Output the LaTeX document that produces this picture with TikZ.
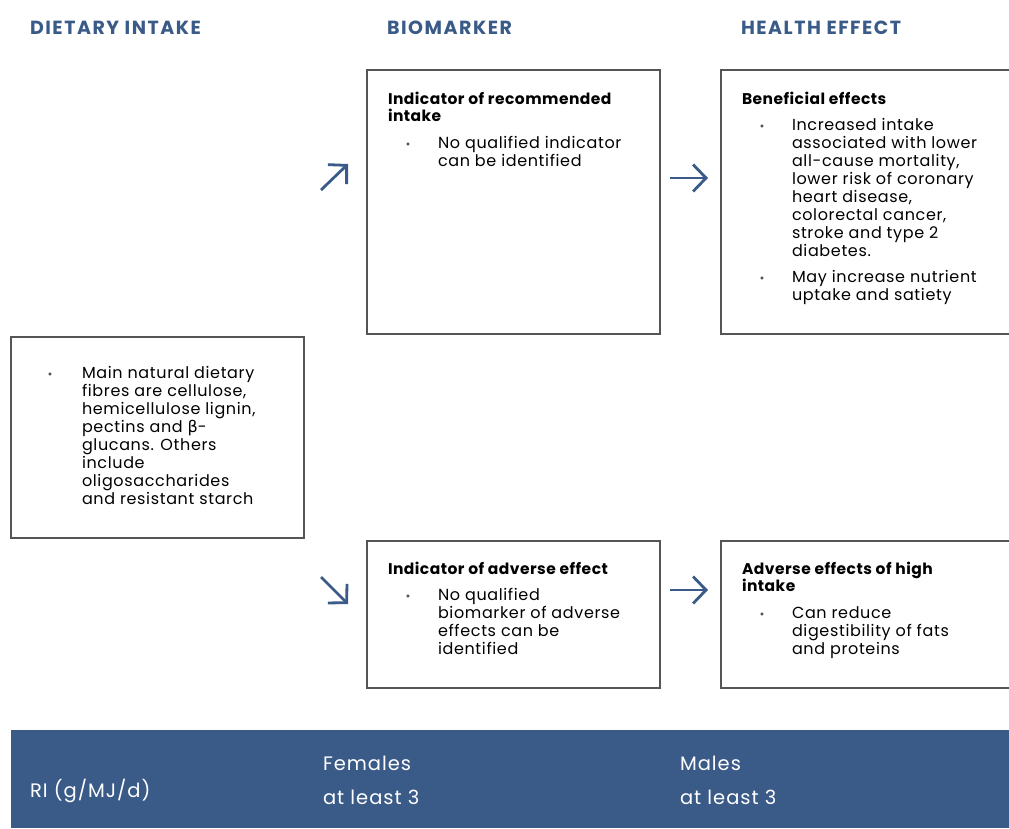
\documentclass[tikz,border=0pt]{standalone}
\usepackage{fontspec}
\setmainfont{Poppins}
\newfontfamily\greekfont{DejaVu Sans}
\usetikzlibrary{arrows.meta, positioning}
\definecolor{headblue}{HTML}{3A5A88}
\definecolor{framegray}{HTML}{555555}

\begin{document}
\begin{tikzpicture}[
	x=1pt, y=-1pt,
	every node/.style = {inner sep=0pt, outer sep=0pt},
	panel/.style = {draw=framegray, line width=1.8pt, anchor=north west},
	colhead/.style = {anchor=base west, text=headblue, font=\fontsize{19}{22}\selectfont\bfseries\addfontfeature{LetterSpace=8}},
	boxtitle/.style = {anchor=base west, align=left, font=\fontsize{15.5}{17.5}\selectfont\bfseries\addfontfeature{LetterSpace=3}},
	item/.style = {anchor=base west, align=left, font=\fontsize{16}{18}\selectfont\addfontfeature{LetterSpace=4}},
	dot/.style = {anchor=base, text=framegray, font=\fontsize{12}{12}\selectfont},
	barlabel/.style = {anchor=base west, text=white, font=\fontsize{19.5}{22}\selectfont\addfontfeature{LetterSpace=5}},
	flow/.style = {headblue, line width=2.8pt, -{Straight Barb[length=13pt, width=27pt]}}
	]
	\useasboundingbox (0,0) rectangle (1009,828);
%
	\node[colhead] (hdiet) at (30,34) {DIETARY INTAKE};
	\node[colhead] (hbio)  at (387,34) {BIOMARKER};
	\node[colhead] (hhealth) at (741,34) {HEALTH EFFECT};
%
	\node[panel, minimum width=293, minimum height=264] (biotop) at (367,70) {};
	\node[panel, minimum width=300, minimum height=264] (efftop) at (721,70) {};
	\node[panel, minimum width=293, minimum height=201] (intake) at (11,337) {};
	\node[panel, minimum width=293, minimum height=147] (biobot) at (367,541) {};
	\node[panel, minimum width=300, minimum height=147] (effbot) at (721,541) {};
%
	% text nodes sit on the baseline of their last line
	\node[dot]  (d0) at (50,378) {•};
	\node[item] (t0) at (82,504) {Main natural dietary\\fibres are cellulose,\\hemicellulose lignin,\\pectins and {\greekfont β}-\\glucans. Others\\include\\oligosaccharides\\and resistant starch};
%
	\node[boxtitle] (ti1) at (388,121.5) {Indicator of recommended\\intake};
	\node[dot]  (d1) at (408,148) {•};
	\node[item] (t1) at (438,166) {No qualified indicator\\can be identified};
%
	\node[boxtitle] (ti2) at (742,104) {Beneficial effects};
	\node[dot]  (d2) at (762,130) {•};
	\node[item] (t2) at (792,256) {Increased intake\\associated with lower\\all-cause mortality,\\lower risk of coronary\\heart disease,\\colorectal cancer,\\stroke and type 2\\diabetes.};
	\node[dot]  (d3) at (762,282) {•};
	\node[item] (t3) at (792,300) {May increase nutrient\\uptake and satiety};
%
	\node[boxtitle] (ti3) at (388,574) {Indicator of adverse effect};
	\node[dot]  (d4) at (408,600) {•};
	\node[item] (t4) at (438,654) {No qualified\\biomarker of adverse\\effects can be\\identified};
%
	\node[boxtitle] (ti4) at (742,591.5) {Adverse effects of high\\intake};
	\node[dot]  (d5) at (762,618) {•};
	\node[item] (t5) at (792,654) {Can reduce\\digestibility of fats\\and proteins};
%
	\coordinate (up0) at (321,190);
	\coordinate (up1) at (348,164);
	\coordinate (dn0) at (321,577);
	\coordinate (dn1) at (348,604);
	\draw[flow] (up0) -- (up1);
	\draw[flow] (dn0) -- (dn1);
	\draw[flow] ([xshift=10pt]biotop.east |- up1) ++(0,14) coordinate (r0) -- ([xshift=48pt]biotop.east |- r0);
	\draw[flow] ([xshift=10pt]biobot.east |- dn0) ++(0,13) coordinate (r1) -- ([xshift=48pt]biobot.east |- r1);
%
	\fill[headblue] (11,730) rectangle (1009,828);
	\node[barlabel] (ri) at (30,797) {RI (g/MJ/d)};
	\node[barlabel] (fem) at (323,770) {Females};
	\node[barlabel] (femv) at (323,804) {at least 3};
	\node[barlabel] (mal) at (680,770) {Males};
	\node[barlabel] (malv) at (680,804) {at least 3};
\end{tikzpicture}
\end{document}
